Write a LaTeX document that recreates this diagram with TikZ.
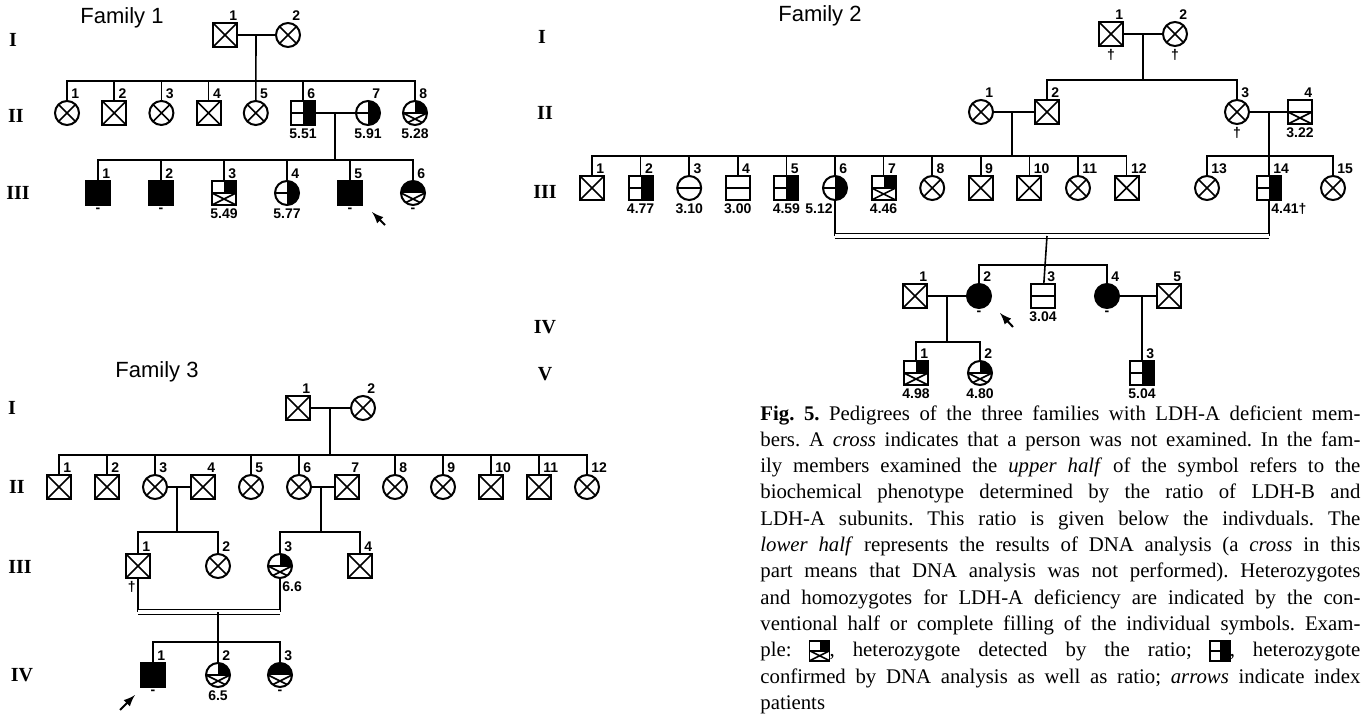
\documentclass[tikz,border=0pt]{standalone}
\usepackage{fontspec}
\setmainfont{Liberation Serif}
\setsansfont{Liberation Sans}
\usepackage{pict2e}
\usetikzlibrary{positioning}

\newcommand\ppbb{path picture bounding box}
\newcommand\capline[1]{\makebox[300pt][s]{#1}}
\newcommand\hetrmark{\begingroup\setlength{\unitlength}{1pt}\linethickness{0.8pt}%
  \begin{picture}(10,10)(0,2)%
    \polygon*(5,5)(10,5)(10,10)(5,10)%
    \polygon(0,0)(10,0)(10,10)(0,10)%
    \Line(0,5)(10,5)\Line(0,5)(10,0)\Line(0,0)(10,5)%
  \end{picture}\endgroup}
\newcommand\hetdmark{\begingroup\setlength{\unitlength}{1pt}\linethickness{0.8pt}%
  \begin{picture}(10,10)(0,2)%
    \polygon*(5,0)(10,0)(10,10)(5,10)%
    \polygon(0,0)(10,0)(10,10)(0,10)%
    \Line(0,5)(5,5)%
  \end{picture}\endgroup}

\begin{document}
\begin{tikzpicture}[x=0.5pt, y=-0.5pt,
    person/.style={draw, line width=1pt, minimum size=12pt, inner sep=0pt},
    male/.style={person, rectangle},
    female/.style={person, circle},
    nx/.style={path picture={\draw[line width=0.8pt] (\ppbb.south west) -- (\ppbb.north east) (\ppbb.north west) -- (\ppbb.south east);}},
    hom/.style={fill=black},
    norm/.style={path picture={\draw[line width=0.8pt] (\ppbb.west) -- (\ppbb.east);}},
    hetd/.style={path picture={\fill (\ppbb.north) rectangle (\ppbb.south east); \draw[line width=0.8pt] (\ppbb.west) -- (\ppbb.center);}},
    hetr/.style={path picture={\fill (\ppbb.center) rectangle (\ppbb.north east); \draw[line width=0.8pt] (\ppbb.west) -- (\ppbb.east) (\ppbb.west) -- (\ppbb.south east) (\ppbb.east) -- (\ppbb.south west);}},
    homr/.style={path picture={\fill (\ppbb.west) rectangle (\ppbb.north east); \draw[line width=0.8pt] (\ppbb.west) -- (\ppbb.south east) (\ppbb.east) -- (\ppbb.south west);}},
    normr/.style={path picture={\draw[line width=0.8pt] (\ppbb.west) -- (\ppbb.east) (\ppbb.west) -- (\ppbb.south east) (\ppbb.east) -- (\ppbb.south west);}},
    numlab/.style={font=\sffamily\bfseries\fontsize{7}{8}\selectfont, inner sep=0.5pt, anchor=south west, xshift=1.5pt},
    vallab/.style={font=\sffamily\bfseries\fontsize{7}{8}\selectfont, inner sep=1pt},
    idno/.style={label={[numlab]north:#1}},
    ratio/.style={label={[vallab]south:#1}},
    ratiol/.style={label={[vallab, anchor=north east]south:#1}},
    ratior/.style={label={[vallab, anchor=north west]south:#1}},
    link/.style={line width=0.8pt},
    cons/.style={double, double distance=1.6pt, line width=0.8pt},
    idx/.style={-latex, line width=1pt},
    famtitle/.style={font=\sffamily\fontsize{11}{13}\selectfont},
    genlab/.style={font=\rmfamily\bfseries\fontsize{10}{12}\selectfont},
    captext/.style={anchor=north west, inner sep=0pt, align=left, font=\rmfamily\fontsize{10.4}{13.15}\selectfont\frenchspacing}
  ]
  \useasboundingbox (0,0) rectangle (1365,715);

  % Family 1
  \node[famtitle] (f1title) at (122,18) {Family 1};
  \node[genlab] (f1g1) at (13,40) {I};
  \node[genlab] (f1g2) at (16,116) {II};
  \node[genlab] (f1g3) at (18,193) {III};

  \node[male, nx, idno=1] (f1a1) at (225,35) {};
  \node[female, nx, idno=2, right=18.5pt of f1a1] (f1a2) {};

  \node[female, nx, idno=1] (f1b1) at (67,113) {};
  \node[male, nx, idno=2, right=10.6pt of f1b1] (f1b2) {};
  \node[female, nx, idno=3, right=10.6pt of f1b2] (f1b3) {};
  \node[male, nx, idno=4, right=10.6pt of f1b3] (f1b4) {};
  \node[female, nx, idno=5, right=10.6pt of f1b4] (f1b5) {};
  \node[male, hetd, idno=6, ratio=5.51, right=10.6pt of f1b5] (f1b6) {};
  \node[female, hetd, idno=7, ratio=5.91, right=19.5pt of f1b6] (f1b7) {};
  \node[female, hetr, idno=8, ratio=5.28, right=10.5pt of f1b7] (f1b8) {};

  \node[male, hom, idno=1, ratio=-] (f1c1) at (98,193) {};
  \node[male, hom, idno=2, ratio=-, right=18.5pt of f1c1] (f1c2) {};
  \node[male, hetr, idno=3, ratio=5.49, right=18.5pt of f1c2] (f1c3) {};
  \node[female, hetd, idno=4, ratio=5.77, right=18.5pt of f1c3] (f1c4) {};
  \node[male, hom, idno=5, ratio=-, right=18.5pt of f1c4] (f1c5) {};
  \node[female, homr, idno=6, ratio=-, right=18.5pt of f1c5] (f1c6) {};

  \coordinate (f1m1) at (256,35);
  \coordinate (f1s1) at (256,81);
  \coordinate (f1m2) at (335,113);
  \coordinate (f1s2) at (335,160);
  \coordinate (f1ix) at (385,225);
  \coordinate (f1it) at (372,212);

  \draw[link] (f1a1) -- (f1a2);
  \draw[link] (f1m1) -- (f1b5);
  \draw[link] (f1b1.north) |- (f1s1) -| (f1b8.north);
  \draw[link] (f1b2.north) -- (f1b2.north |- f1s1) (f1b3.north) -- (f1b3.north |- f1s1)
    (f1b4.north) -- (f1b4.north |- f1s1) (f1b6.north) -- (f1b6.north |- f1s1);
  \draw[link] (f1b6) -- (f1b7);
  \draw[link] (f1m2) -- (f1s2);
  \draw[link] (f1c1.north) |- (f1s2) -| (f1c6.north);
  \draw[link] (f1c2.north) -- (f1c2.north |- f1s2) (f1c3.north) -- (f1c3.north |- f1s2)
    (f1c4.north) -- (f1c4.north |- f1s2) (f1c5.north) -- (f1c5.north |- f1s2);
  \draw[idx] (f1ix) -- (f1it);

  % Family 2
  \node[famtitle] (f2title) at (820,16) {Family 2};
  \node[genlab] (f2g1) at (542,37) {I};
  \node[genlab] (f2g2) at (545,113) {II};
  \node[genlab] (f2g3) at (545,192) {III};
  \node[genlab] (f2g4) at (545,327) {IV};
  \node[genlab] (f2g5) at (545,374) {V};

  \node[male, nx, idno=1, ratio=\dag] (f2a1) at (1111,34) {};
  \node[female, nx, idno=2, ratio=\dag, right=19pt of f2a1] (f2a2) {};

  \node[female, nx, idno=1] (f2b1) at (981,112) {};
  \node[male, nx, idno=2, right=20pt of f2b1] (f2b2) {};
  \node[female, nx, idno=3, ratio=\dag] (f2b3) at (1237,112) {};
  \node[male, normr, idno=4, ratio=3.22, right=18.5pt of f2b3] (f2b4) {};

  \node[male, nx, idno=1] (f2c1) at (592,188) {};
  \node[male, hetd, idno=2, ratio=4.77, right=11.3pt of f2c1] (f2c2) {};
  \node[female, norm, idno=3, ratio=3.10, right=11.3pt of f2c2] (f2c3) {};
  \node[male, norm, idno=4, ratio=3.00, right=11.3pt of f2c3] (f2c4) {};
  \node[male, hetd, idno=5, ratio=4.59, right=11.3pt of f2c4] (f2c5) {};
  \node[female, hetd, idno=6, ratiol=5.12, right=11.3pt of f2c5] (f2c6) {};
  \node[male, hetr, idno=7, ratio=4.46, right=11.3pt of f2c6] (f2c7) {};
  \node[female, nx, idno=8, right=11.3pt of f2c7] (f2c8) {};
  \node[male, nx, idno=9, right=11.3pt of f2c8] (f2c9) {};
  \node[male, nx, idno=10, right=11.3pt of f2c9] (f2c10) {};
  \node[female, nx, idno=11, right=11.3pt of f2c10] (f2c11) {};
  \node[male, nx, idno=12, right=11.3pt of f2c11] (f2c12) {};
  \node[female, nx, idno=13] (f2c13) at (1207,188) {};
  \node[male, hetd, idno=14, ratior=4.41\dag, right=18pt of f2c13] (f2c14) {};
  \node[female, nx, idno=15, right=19pt of f2c14] (f2c15) {};

  \node[male, nx, idno=1] (f2d1) at (915,296) {};
  \node[female, hom, idno=2, ratio=-, right=19pt of f2d1] (f2d2) {};
  \node[male, norm, idno=3, ratio=3.04, right=19pt of f2d2] (f2d3) {};
  \node[female, hom, idno=4, ratio=-, right=19pt of f2d3] (f2d4) {};
  \node[male, nx, idno=5, right=18pt of f2d4] (f2d5) {};

  \node[male, hetr, idno=1, ratio=4.98] (f2e1) at (916,373) {};
  \node[female, hetr, idno=2, ratio=4.80, right=19pt of f2e1] (f2e2) {};
  \node[male, hetd, idno=3, ratio=5.04] (f2e3) at (1142,373) {};

  \coordinate (f2m1) at (1143,34);
  \coordinate (f2s1) at (1143,80);
  \coordinate (f2m2) at (1012,112);
  \coordinate (f2s2) at (1012,156);
  \coordinate (f2m3) at (1269,112);
  \coordinate (f2s3) at (1269,156);
  \coordinate (f2k) at (1047,236);
  \coordinate (f2s4) at (1047,265);
  \coordinate (f2m4) at (947,296);
  \coordinate (f2s5) at (947,342);
  \coordinate (f2m5) at (1142,296);
  \coordinate (f2ix) at (1013,327);
  \coordinate (f2it) at (1000,313);

  \draw[link] (f2a1) -- (f2a2);
  \draw[link] (f2m1) -- (f2s1);
  \draw[link] (f2b2.north) |- (f2s1) -| (f2b3.north);
  \draw[link] (f2b1) -- (f2b2);
  \draw[link] (f2m2) -- (f2s2);
  \draw[link] (f2c1.north) |- (f2s2) -| (f2c12.north);
  \draw[link] (f2c2.north) -- (f2c2.north |- f2s2) (f2c3.north) -- (f2c3.north |- f2s2)
    (f2c4.north) -- (f2c4.north |- f2s2) (f2c5.north) -- (f2c5.north |- f2s2)
    (f2c6.north) -- (f2c6.north |- f2s2) (f2c7.north) -- (f2c7.north |- f2s2)
    (f2c8.north) -- (f2c8.north |- f2s2) (f2c9.north) -- (f2c9.north |- f2s2)
    (f2c10.north) -- (f2c10.north |- f2s2) (f2c11.north) -- (f2c11.north |- f2s2);
  \draw[link] (f2b3) -- (f2b4);
  \draw[link] (f2m3) -- (f2c14);
  \draw[link] (f2c13.north) |- (f2s3) -| (f2c15.north);
  \draw[link] (f2c6.south) -- (f2c6.south |- f2k) (f2c14.south) -- (f2c14.south |- f2k);
  \draw[cons] (f2c6.south |- f2k) -- (f2c14.south |- f2k);
  \draw[link] (f2k) -- (f2d3);
  \draw[link] (f2d2.north) |- (f2s4) -| (f2d4.north);
  \draw[link] (f2d1) -- (f2d2);
  \draw[link] (f2m4) -- (f2s5);
  \draw[link] (f2e1.north) |- (f2s5) -| (f2e2.north);
  \draw[link] (f2d4) -- (f2d5);
  \draw[link] (f2m5) -- (f2e3);
  \draw[idx] (f2ix) -- (f2it);

  % Family 3
  \node[famtitle] (f3title) at (157,372) {Family 3};
  \node[genlab] (f3g1) at (12,408) {I};
  \node[genlab] (f3g2) at (17,487) {II};
  \node[genlab] (f3g3) at (20,567) {III};
  \node[genlab] (f3g4) at (22,675) {IV};

  \node[male, nx, idno=1] (f3a1) at (298,408) {};
  \node[female, nx, idno=2, right=19.5pt of f3a1] (f3a2) {};

  \node[male, nx, idno=1] (f3b1) at (59,487) {};
  \node[male, nx, idno=2, right=11pt of f3b1] (f3b2) {};
  \node[female, nx, idno=3, right=11pt of f3b2] (f3b3) {};
  \node[male, nx, idno=4, right=11pt of f3b3] (f3b4) {};
  \node[female, nx, idno=5, right=11pt of f3b4] (f3b5) {};
  \node[female, nx, idno=6, right=11pt of f3b5] (f3b6) {};
  \node[male, nx, idno=7, right=11pt of f3b6] (f3b7) {};
  \node[female, nx, idno=8, right=11pt of f3b7] (f3b8) {};
  \node[female, nx, idno=9, right=11pt of f3b8] (f3b9) {};
  \node[male, nx, idno=10, right=11pt of f3b9] (f3b10) {};
  \node[male, nx, idno=11, right=11pt of f3b10] (f3b11) {};
  \node[female, nx, idno=12, right=11pt of f3b11] (f3b12) {};

  \node[male, nx, idno=1, ratiol=\dag] (f3c1) at (138,566) {};
  \node[female, nx, idno=2, right=27pt of f3c1] (f3c2) {};
  \node[female, hetr, idno=3, ratior=6.6] (f3c3) at (280,566) {};
  \node[male, nx, idno=4, right=27pt of f3c3] (f3c4) {};

  \node[male, hom, idno=1, ratio=-] (f3d1) at (153,675) {};
  \node[female, hetr, idno=2, ratio=6.5, right=19.5pt of f3d1] (f3d2) {};
  \node[female, homr, idno=3, ratio=-, right=18pt of f3d2] (f3d3) {};

  \coordinate (f3m1) at (330,408);
  \coordinate (f3s1) at (330,455);
  \coordinate (f3m2) at (177,487);
  \coordinate (f3s2) at (177,532);
  \coordinate (f3m3) at (321,487);
  \coordinate (f3s3) at (321,532);
  \coordinate (f3k) at (218,612);
  \coordinate (f3s4) at (218,642);
  \coordinate (f3ix) at (120,710);
  \coordinate (f3it) at (135,695);

  \draw[link] (f3a1) -- (f3a2);
  \draw[link] (f3m1) -- (f3s1);
  \draw[link] (f3b1.north) |- (f3s1) -| (f3b12.north);
  \draw[link] (f3b2.north) -- (f3b2.north |- f3s1) (f3b3.north) -- (f3b3.north |- f3s1)
    (f3b5.north) -- (f3b5.north |- f3s1) (f3b6.north) -- (f3b6.north |- f3s1)
    (f3b8.north) -- (f3b8.north |- f3s1) (f3b9.north) -- (f3b9.north |- f3s1)
    (f3b10.north) -- (f3b10.north |- f3s1) (f3b11.north) -- (f3b11.north |- f3s1);
  \draw[link] (f3b3) -- (f3b4);
  \draw[link] (f3m2) -- (f3s2);
  \draw[link] (f3c1.north) |- (f3s2) -| (f3c2.north);
  \draw[link] (f3b6) -- (f3b7);
  \draw[link] (f3m3) -- (f3s3);
  \draw[link] (f3c3.north) |- (f3s3) -| (f3c4.north);
  \draw[link] (f3c1.south) -- (f3c1.south |- f3k) (f3c3.south) -- (f3c3.south |- f3k);
  \draw[cons] (f3c1.south |- f3k) -- (f3c3.south |- f3k);
  \draw[link] (f3k) -- (f3d2);
  \draw[link] (f3d1.north) |- (f3s4) -| (f3d3.north);
  \draw[idx] (f3ix) -- (f3it);

  % caption
  \node[captext] (cap) at (760,405) {%
    \capline{\textbf{Fig. 5.} Pedigrees of the three families with LDH-A deficient mem-}\\
    \capline{bers. A \textit{cross} indicates that a person was not examined. In the fam-}\\
    \capline{ily members examined the \textit{upper half} of the symbol refers to the}\\
    \capline{biochemical phenotype determined by the ratio of LDH-B and}\\
    \capline{LDH-A subunits. This ratio is given below the indivduals. The}\\
    \capline{\textit{lower half} represents the results of DNA analysis (a \textit{cross} in this}\\
    \capline{part means that DNA analysis was not performed). Heterozygotes}\\
    \capline{and homozygotes for LDH-A deficiency are indicated by the con-}\\
    \capline{ventional half or complete filling of the individual symbols. Exam-}\\
    \capline{ple: \hetrmark, heterozygote detected by the ratio; \hetdmark, heterozygote}\\
    \capline{confirmed by DNA analysis as well as ratio; \textit{arrows} indicate index}\\
    patients};
\end{tikzpicture}
\end{document}
